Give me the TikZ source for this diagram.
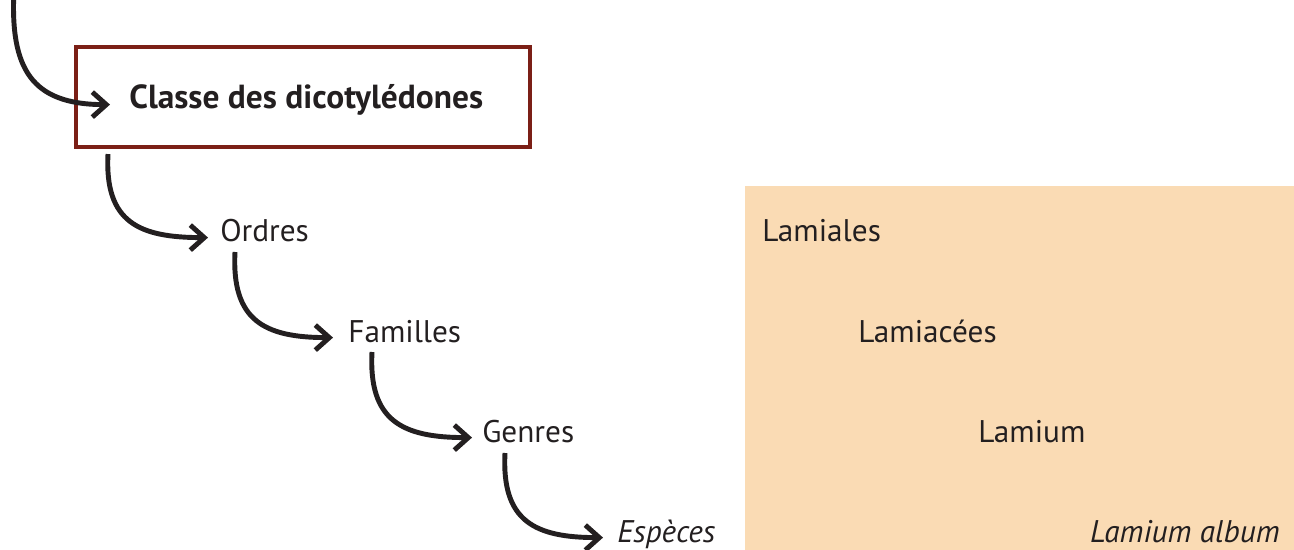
\documentclass[tikz,border=0pt]{standalone}
\usepackage{fontspec}
\setmainfont{PT Sans}
\usetikzlibrary{arrows.meta}
\definecolor{boxred}{HTML}{7B1F16}
\definecolor{peach}{HTML}{FADBB4}
\definecolor{ink}{HTML}{231F20}
\begin{document}
\begin{tikzpicture}[
    every node/.style={inner sep=0pt, text=ink, font=\fontsize{17.8}{22}\selectfont},
    flow/.style={draw=ink, line width=2.8pt, out=-93, in=180, looseness=1.35,
        -{Straight Barb[length=0.28cm,width=0.5cm]}},
    level/.style={anchor=base west},
    example/.style={anchor=base west}
  ]
        \useasboundingbox (0,0) rectangle (25.88,-11);
        % Example
        \fill[peach] (14.9,-3.72) rectangle (25.88,-11);
        % Classe
        \node[draw=boxred, line width=2.3pt, minimum width=9.08cm, minimum height=2cm,
              anchor=north west] (classbox) at (1.48,-0.9) {};
        \node[level, font=\fontsize{19}{23}\selectfont\bfseries] (classe) at (2.58,-2.18) {Classe des dicotylédones};
        \coordinate (entry) at (0.28,0.2);
        % Ranks
        \node[level] (ordres) at (4.4,-4.84) {Ordres};
        \node[level] (familles) at (6.96,-6.84) {Familles};
        \node[level] (genres) at (9.64,-8.84) {Genres};
        \node[level] (especes) at (12.34,-10.84) {\itshape Espèces};
        % Lamier blanc
        \node[example] (lamiales) at (15.24,-4.84) {Lamiales};
        \node[example] (lamiacees) at (17.16,-6.84) {Lamiacées};
        \node[example] (lamium) at (19.56,-8.84) {Lamium};
        \node[anchor=base east] (album) at (25.6,-10.84) {\itshape Lamium album};
        % Arrows
        \draw[flow] (entry) to ([xshift=-0.38cm]classe.mid west);
        \draw[flow] ([shift={(0.68,-0.1)}]classbox.south west) to ([xshift=-0.24cm]ordres.mid west);
        \draw[flow] ([shift={(0.3,-0.2)}]ordres.base west) to ([xshift=-0.3cm]familles.mid west);
        \draw[flow] ([shift={(0.48,-0.2)}]familles.base west) to ([xshift=-0.2cm]genres.mid west);
        \draw[flow] ([shift={(0.46,-0.22)}]genres.base west) to ([xshift=-0.28cm]especes.mid west);
    \end{tikzpicture}
\end{document}
